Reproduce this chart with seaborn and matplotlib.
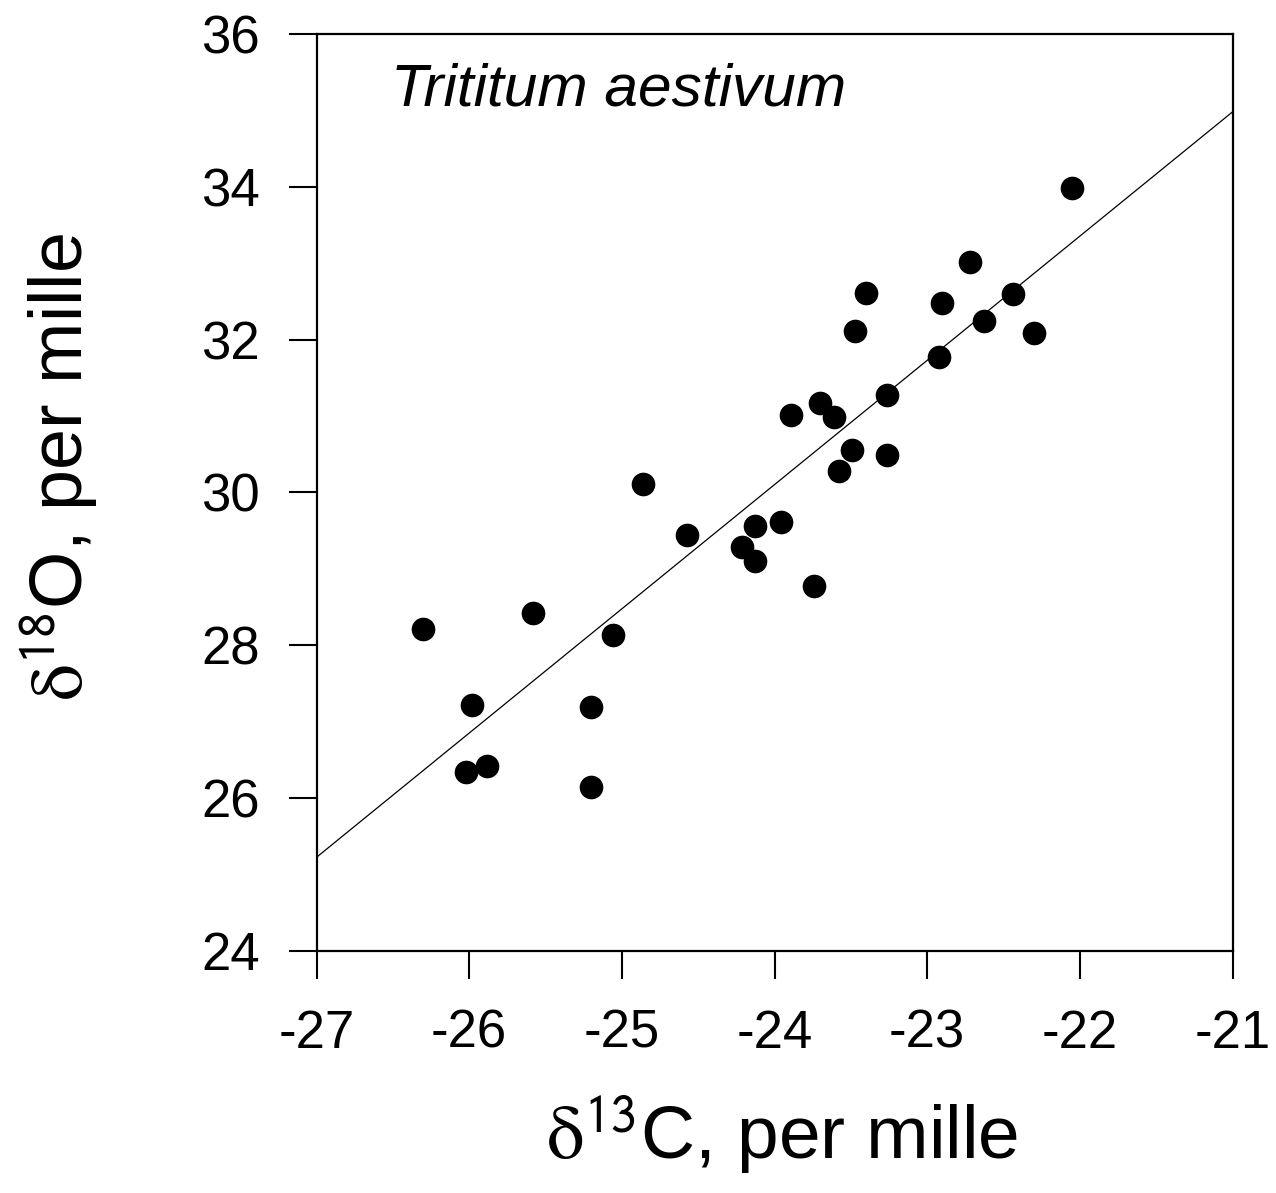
import matplotlib
matplotlib.use("Agg")
import matplotlib.pyplot as plt
import seaborn as sns
import pandas as pd

# ---- data ----
d13C = [-26.30, -25.58, -25.06, -25.98, -25.20, -26.02, -25.88, -25.20,
        -24.86, -24.57, -24.21, -24.13, -24.13, -23.96, -23.74, -23.89,
        -23.70, -23.61, -23.58, -23.49, -23.26, -23.26, -23.47, -23.40,
        -22.92, -22.90, -22.72, -22.63, -22.44, -22.30, -22.05]
d18O = [28.21, 28.42, 28.13, 27.21, 27.19, 26.34, 26.42, 26.14,
        30.11, 29.44, 29.28, 29.10, 29.56, 29.61, 28.77, 31.01,
        31.17, 30.99, 30.28, 30.55, 30.49, 31.27, 32.11, 32.61,
        31.77, 32.48, 33.01, 32.24, 32.60, 32.08, 33.98]

fit_x = [-27.0, -21.0]
fit_y = [25.22, 34.98]

x_ticks = [-27, -26, -25, -24, -23, -22, -21]
y_ticks = [24, 26, 28, 30, 32, 34, 36]
species = "Trititum aestivum"

pts = pd.DataFrame({"d13C": d13C, "d18O": d18O})
line = pd.DataFrame({"x": fit_x, "y": fit_y})

sns.set_style("ticks")
plt.rcParams["font.family"] = ["Liberation Sans", "DejaVu Sans"]
plt.rcParams["mathtext.fontset"] = "stix"
plt.rcParams["text.color"] = "black"
plt.rcParams["axes.labelcolor"] = "black"
plt.rcParams["xtick.color"] = "black"
plt.rcParams["ytick.color"] = "black"

fig = plt.figure(figsize=(12.76, 11.93), dpi=100)
ax = fig.add_axes([316.5 / 1276, 1 - 950.5 / 1193, 916 / 1276, 916.5 / 1193])

sns.lineplot(data=line, x="x", y="y", ax=ax, color="black", linewidth=0.9)
sns.scatterplot(data=pts, x="d13C", y="d18O", ax=ax, color="black",
                s=290, edgecolor="black", linewidth=0, zorder=3)

ax.set_xlim(-27, -21)
ax.set_ylim(24, 36)
ax.set_xticks(x_ticks)
ax.set_yticks(y_ticks)
ax.set_xticklabels([str(v) for v in x_ticks])
ax.set_yticklabels([str(v) for v in y_ticks])

for sp in ax.spines.values():
    sp.set_visible(True)
    sp.set_linewidth(1.6)
    sp.set_color("black")

ax.tick_params(axis="both", direction="out", length=20, width=1.5,
               labelsize=38, colors="black", labelcolor="black")
ax.tick_params(axis="x", pad=22, top=False)
ax.tick_params(axis="y", pad=21, right=False)

ax.set_xlabel(r"$\mathrm{\delta}^{\mathsf{13}}$C, per mille", fontsize=54, color="black")
ax.set_ylabel(r"$\mathrm{\delta}^{\mathsf{18}}$O, per mille", fontsize=53, color="black")
ax.xaxis.set_label_coords(0.508, -0.157)
ax.yaxis.set_label_coords(-0.236, 0.527)

ax.text(0.081, 0.9225, species, transform=ax.transAxes, fontsize=43.5,
        style="italic", ha="left", va="baseline", color="black")

fig.savefig("out.png", dpi=100, facecolor="white")
